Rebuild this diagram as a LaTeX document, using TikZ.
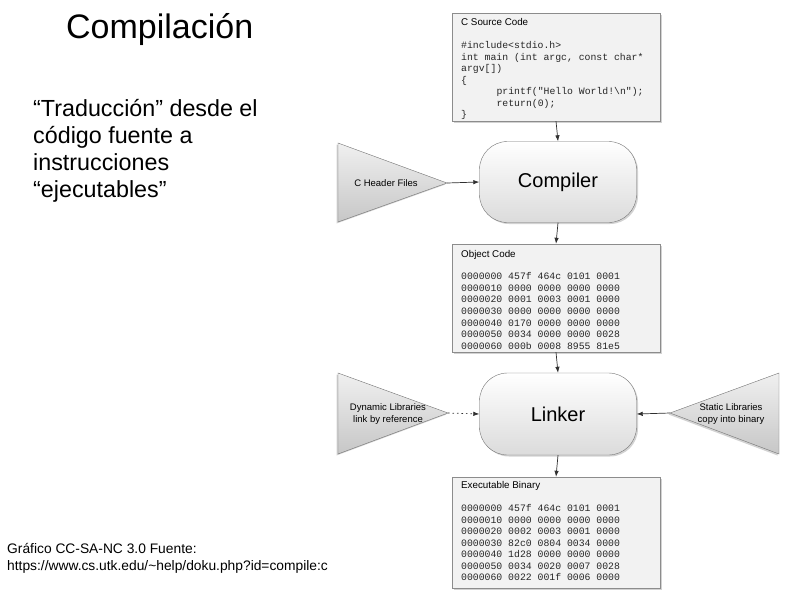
\documentclass[tikz,border=0pt]{standalone}
\usepackage{fontspec}
\setmainfont{Liberation Sans}
\setmonofont{Liberation Mono}
\usetikzlibrary{arrows.meta, positioning, shadows, calc}

\definecolor{boxline}{HTML}{8C8C8C}
\definecolor{boxfill}{HTML}{F2F2F2}
\definecolor{wireclr}{HTML}{303030}

\tikzset{
  codebox/.style={draw=boxline, fill=boxfill, minimum width=208pt,
    drop shadow={shadow xshift=1.5pt, shadow yshift=-1.5pt, fill=black!35}},
  boxtitle/.style={anchor=base west, inner sep=0pt,
    font=\fontsize{9.8}{11}\selectfont},
  codeline/.style={anchor=base west, inner sep=0pt, text=black!85,
    font=\ttfamily\fontsize{9.8}{11}\selectfont},
  stepbox/.style={draw=black!55, rounded corners=28pt, minimum width=157pt,
    top color=white, bottom color=black!14,
    drop shadow={shadow xshift=1.5pt, shadow yshift=-1.5pt, fill=black!35},
    font=\fontsize{20}{24}\selectfont},
  libtri/.style={draw=black!55, top color=black!6, bottom color=black!22,
    drop shadow={shadow xshift=-1.5pt, shadow yshift=-1.5pt, fill=black!35}},
  trilabel/.style={inner sep=0pt, align=center,
    font=\fontsize{9.5}{11.5}\selectfont},
  wire/.style={draw=wireclr, line width=0.7pt,
    -{Latex[length=6pt, width=4.5pt]}},
}

\begin{document}
\begin{tikzpicture}[x=1pt, y=-1pt]
  \useasboundingbox (0,0) rectangle (794,595);

  % Slide text
  \node[anchor=base west, inner sep=0pt, font=\fontsize{34}{40}\selectfont]
    (title) at (66,38) {Compilación};
  \node[anchor=base west, inner sep=0pt, align=left,
        font=\fontsize{23.3}{26.7}\selectfont]
    (intro) at (33,197) {“Traducción” desde el\\código fuente a\\instrucciones\\“ejecutables”};
  \node[anchor=base west, inner sep=0pt, align=left,
        font=\fontsize{13.8}{17}\selectfont]
    (credit) at (7,570) {Gráfico CC-SA-NC 3.0 Fuente:\\https://www.cs.utk.edu/\textasciitilde help/doku.php?id=compile:c};

  % C source
  \node[codebox, minimum height=108pt] (src) at (556,67) {};
  \node[boxtitle] (srctitle) at (461,25) {C Source Code};
  \foreach \txt [count=\i] in {\#include<stdio.h>,
      {int main (int argc, const char*},
      argv[]),
      \{,
      \hspace*{35.4pt}printf("Hello World!\textbackslash n");,
      \hspace*{35.4pt}return(0);,
      \}}
    \node[codeline] (src-\i) at (461,{48.5+11.5*(\i-1)}) {\txt};

  % Compiler
  \node[stepbox, minimum height=81pt] (compiler) at (558,182) {Compiler};
  \draw[libtri] (338,143) -- (447,183) -- (338,222) -- cycle;
  \node[trilabel] (hdr) at (386,183) {C Header Files};
  \coordinate (hdrtip) at (447,183);

  % Object code
  \node[codebox, minimum height=108pt] (obj) at (556,298) {};
  \node[boxtitle] (objtitle) at (461,257) {Object Code};
  \foreach \txt [count=\i] in {0000000 457f 464c 0101 0001,
      0000010 0000 0000 0000 0000,
      0000020 0001 0003 0001 0000,
      0000030 0000 0000 0000 0000,
      0000040 0170 0000 0000 0000,
      0000050 0034 0000 0000 0028,
      0000060 000b 0008 8955 81e5}
    \node[codeline] (obj-\i) at (461,{279.5+11.67*(\i-1)}) {\txt};

  % Linker
  \node[stepbox, minimum height=82pt] (linker) at (558,414) {Linker};
  \draw[libtri] (338,373) -- (448,413) -- (338,454) -- cycle;
  \node[trilabel] (dynlib) at (388,414) {Dynamic Libraries\\link by reference};
  \coordinate (dyntip) at (448,413);
  \draw[libtri] (779,373) -- (670,413) -- (779,454) -- cycle;
  \node[trilabel] (statlib) at (731,414) {Static Libraries\\copy into binary};
  \coordinate (stattip) at (670,413);

  % Executable
  \node[codebox, minimum height=111pt] (exe) at (556,532.5) {};
  \node[boxtitle] (exetitle) at (461,488) {Executable Binary};
  \foreach \txt [count=\i] in {0000000 457f 464c 0101 0001,
      0000010 0000 0000 0000 0000,
      0000020 0002 0003 0001 0000,
      0000030 82c0 0804 0034 0000,
      0000040 1d28 0000 0000 0000,
      0000050 0034 0020 0007 0028,
      0000060 0022 001f 0006 0000}
    \node[codeline] (exe-\i) at (461,{511.5+11.5*(\i-1)}) {\txt};

  % Connectors
  \draw[wire] (src.south) -- (compiler.north);
  \draw[wire] (hdrtip) -- (compiler.west);
  \draw[wire] (compiler.south) -- (obj.north);
  \draw[wire] (obj.south) -- (linker.north);
  \draw[wire, dash pattern=on 1.5pt off 3pt] (dyntip) -- (linker.west);
  \draw[wire] (stattip) -- (linker.east);
  \draw[wire] (linker.south) -- (exe.north);
\end{tikzpicture}
\end{document}
